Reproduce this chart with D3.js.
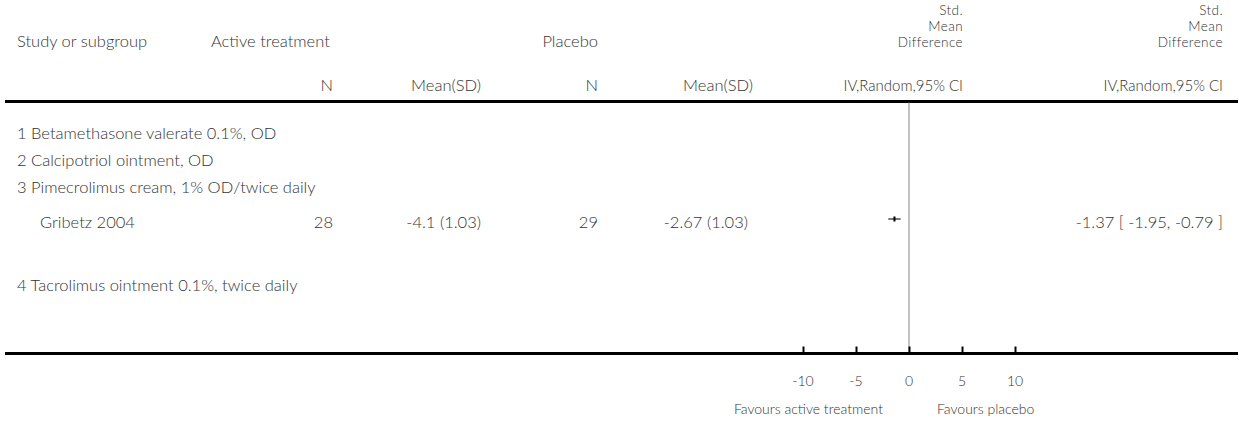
<!DOCTYPE html>
<html>
<head>
<meta charset="utf-8">
<script src="https://cdn.jsdelivr.net/npm/d3@7"></script>
<style>
  html, body { margin: 0; padding: 0; background: #fff; }
  svg text { font-family: "Lato", "Open Sans", sans-serif; font-size: 16.5px; font-weight: 300; fill: #333; }
</style>
</head>
<body>
<svg id="chart" width="1239" height="423"></svg>
<script>
// ---- data ----
const subgroups = [
  "1 Betamethasone valerate 0.1%, OD",
  "2 Calcipotriol ointment, OD",
  "3 Pimecrolimus cream, 1% OD/twice daily",
  "4 Tacrolimus ointment 0.1%, twice daily"
];
const studyNames = ["Gribetz 2004"];
const activeN = [28];
const activeMeanSD = ["-4.1 (1.03)"];
const placeboN = [29];
const placeboMeanSD = ["-2.67 (1.03)"];
const smd = [-1.37];
const ciLow = [-1.95];
const ciHigh = [-0.79];
const tickValues = [-10, -5, 0, 5, 10];
const favourLabels = ["Favours active treatment", "Favours placebo"];
const effectHeader = ["Std.", "Mean", "Difference"];

// ---- layout ----
const svg = d3.select("#chart");
const x = d3.scaleLinear().domain([-10, 10]).range([803, 1015]);
const lineTop = 101.5, lineBottom = 353.5;

const rows = [
  {type: "sub", i: 0, y: 139},
  {type: "sub", i: 1, y: 166},
  {type: "sub", i: 2, y: 193},
  {type: "study", i: 0, y: 228},
  {type: "sub", i: 3, y: 291}
];

// header
const hdr = svg.append("g");
function t(xp, yp, txt, anchor) {
  return hdr.append("text").attr("x", xp).attr("y", yp).attr("text-anchor", anchor || "start").text(txt);
}
t(17, 47, "Study or subgroup");
t(211, 47, "Active treatment");
t(598, 47, "Placebo", "end");
[963, 1223].forEach(xr => {
  effectHeader.forEach((s, k) => {
    hdr.append("text").attr("x", xr).attr("y", 14.5 + k * 16.3).attr("text-anchor", "end")
      .style("font-size", "13.5px").style("letter-spacing", "0.4px").text(s);
  });
});
t(333, 91, "N", "end");
t(481, 91, "Mean(SD)", "end");
t(598, 91, "N", "end");
t(753, 91, "Mean(SD)", "end");
t(963, 91, "IV,Random,95% CI", "end").style("font-size", "15px");
t(1223, 91, "IV,Random,95% CI", "end").style("font-size", "15px");

// horizontal rule under header
svg.append("line").attr("x1", 5).attr("x2", 1238).attr("y1", lineTop).attr("y2", lineTop)
  .attr("stroke", "#000").attr("stroke-width", 3);

// zero line
svg.append("line").attr("x1", x(0)).attr("x2", x(0)).attr("y1", lineTop + 1).attr("y2", lineBottom)
  .attr("stroke", "#888").attr("stroke-width", 1);

const body = svg.append("g");
rows.forEach(r => {
  if (r.type === "sub") {
    body.append("text").attr("x", 17).attr("y", r.y).text(subgroups[r.i]);
  } else {
    const i = r.i;
    body.append("text").attr("x", 40).attr("y", r.y).text(studyNames[i]);
    body.append("text").attr("x", 333).attr("y", r.y).attr("text-anchor", "end").text(activeN[i]);
    body.append("text").attr("x", 481).attr("y", r.y).attr("text-anchor", "end").text(activeMeanSD[i]);
    body.append("text").attr("x", 598).attr("y", r.y).attr("text-anchor", "end").text(placeboN[i]);
    body.append("text").attr("x", 748).attr("y", r.y).attr("text-anchor", "end").text(placeboMeanSD[i]);
    body.append("text").attr("x", 1223).attr("y", r.y).attr("text-anchor", "end")
      .text(`${smd[i].toFixed(2)} [ ${ciLow[i].toFixed(2)}, ${ciHigh[i].toFixed(2)} ]`);
    const cy = r.y - 9;
    body.append("line").attr("x1", x(ciLow[i])).attr("x2", x(ciHigh[i])).attr("y1", cy).attr("y2", cy)
      .attr("stroke", "#222").attr("stroke-width", 1.2);
    body.append("rect").attr("x", x(smd[i]) - 1).attr("y", cy - 2.5).attr("width", 2).attr("height", 5)
      .attr("fill", "#000");
  }
});

// bottom axis
const axisG = svg.append("g").attr("transform", `translate(0,${lineBottom})`);
axisG.append("line").attr("x1", 5).attr("x2", 1238).attr("y1", 0).attr("y2", 0)
  .attr("stroke", "#000").attr("stroke-width", 3);
const ax = d3.axisTop(x).tickValues(tickValues).tickSize(7).tickFormat(d => d);
const axG = axisG.append("g").call(ax);
axG.select(".domain").remove();
axG.selectAll(".tick line").attr("stroke", "#000").attr("stroke-width", 2);
axG.selectAll(".tick text").remove();
svg.append("g").selectAll("text").data(tickValues).join("text")
  .attr("x", d => x(d)).attr("y", 386).attr("text-anchor", "middle").style("font-size", "14px")
  .text(d => d);

svg.append("text").attr("x", x(0) - 26).attr("y", 414).attr("text-anchor", "end").style("font-size", "14px").text(favourLabels[0]);
svg.append("text").attr("x", x(0) + 28).attr("y", 414).attr("text-anchor", "start").style("font-size", "14px").text(favourLabels[1]);
</script>
</body>
</html>
